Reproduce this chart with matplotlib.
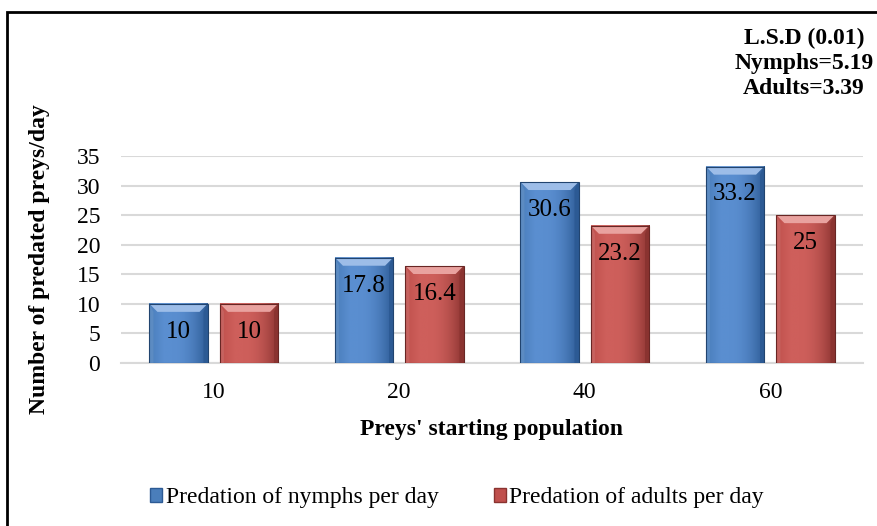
import numpy as np
import matplotlib
matplotlib.use("Agg")
import matplotlib.pyplot as plt
from matplotlib.patches import Patch, Polygon, Rectangle
from matplotlib.colors import to_rgb

categories = ["10", "20", "40", "60"]
nymphs = [10, 17.8, 30.6, 33.2]
adults = [10, 16.4, 23.2, 25]
series_names = ["Predation of nymphs per day", "Predation of adults per day"]
yticks = [0, 5, 10, 15, 20, 25, 30, 35]
lsd_lines = ["L.S.D (0.01)", "Nymphs=5.19", "Adults=3.39"]
xlabel = "Preys' starting population"
ylabel = "Number of predated preys/day"

plt.rcParams['font.family'] = ['Liberation Serif', 'DejaVu Serif']

W, H = 878, 526
fig = plt.figure(figsize=(W / 100, H / 100), dpi=100)
ax = fig.add_axes([121 / W, (H - 363) / H, 742 / W, 207 / H])

x = np.arange(len(categories))
bw = 0.313
off = 0.19
styles = [
    dict(main="#4A7EBB", light="#5A8ED0", edge="#2C5A94", top="#9DBDE8"),
    dict(main="#C0504D", light="#CE5F5B", edge="#8A3330", top="#E9A29F"),
]

def mix(c1, c2, t):
    a, b = np.array(to_rgb(c1)), np.array(to_rgb(c2))
    return a * (1 - t) + b * t

px_y = 35 / 207.0
px_x = 4.0 / 742.0

for vals, sgn, st, name in zip([nymphs, adults], [-1, 1], styles, series_names):
    bars = ax.bar(x + sgn * off, vals, bw, color=st["main"], zorder=3, label=name)
    for b in bars:
        bx, by = b.get_x(), b.get_y()
        w, h = b.get_width(), b.get_height()
        n = 64
        t = np.linspace(0, 1, n)
        cols = np.zeros((1, n, 3))
        for i in range(n):
            if t[i] < 0.4:
                cols[0, i] = mix(st["main"], st["light"], min(1, t[i] / 0.25))
            else:
                cols[0, i] = mix(st["light"], st["edge"], ((t[i] - 0.4) / 0.6) ** 2.0)
        ax.imshow(cols, extent=[bx, bx + w, by, by + h], aspect='auto',
                  zorder=3.1, interpolation='bilinear')
        bev_h = 8 * px_y
        bev_w = 8 * px_x
        top = Polygon([[bx, by + h], [bx + w, by + h], [bx + w - bev_w, by + h - bev_h],
                       [bx + bev_w, by + h - bev_h]], closed=True,
                      facecolor=st["top"], edgecolor='none', zorder=3.2)
        ax.add_patch(top)
        lb = Polygon([[bx, by], [bx, by + h], [bx + bev_w * 0.5, by + h - bev_h],
                      [bx + bev_w * 0.5, by]], closed=True,
                     facecolor=mix(st["main"], "white", 0.1), edgecolor='none', zorder=3.2)
        rb = Polygon([[bx + w, by], [bx + w, by + h], [bx + w - bev_w * 0.5, by + h - bev_h],
                      [bx + w - bev_w * 0.5, by]], closed=True,
                     facecolor=st["edge"], edgecolor='none', zorder=3.2)
        ax.add_patch(lb)
        ax.add_patch(rb)
        ax.add_patch(Rectangle((bx, by), w, h, fill=False, edgecolor=mix(st["edge"], "black", 0.25),
                               linewidth=0.8, zorder=3.3))
        ax.annotate(f"{h:g}", xy=(bx + w / 2, by + h), xytext=(0, -20),
                    textcoords='offset points', ha='center', va='center',
                    fontsize=18, color='black', zorder=4)

ax.set_xlim(-0.5, 3.5)
ax.set_ylim(0, 35)
ax.set_yticks(yticks)
ax.set_xticks(x)
ax.set_xticklabels(categories)
ax.tick_params(axis='both', length=0, labelsize=17)
ax.tick_params(axis='x', pad=14)
ax.tick_params(axis='y', pad=15)
ax.yaxis.grid(True, color='#D9D9D9', linewidth=1.5, zorder=0)
ax.set_axisbelow(True)
for s in ["left", "right", "top"]:
    ax.spines[s].set_visible(False)
ax.spines["bottom"].set_color('#D9D9D9')
ax.spines["bottom"].set_linewidth(1.5)

fig.text(491 / W, (H - 430) / H, xlabel, ha='center', va='center',
         fontsize=17, fontweight='bold')
fig.text(40 / W, (H - 259) / H, ylabel, ha='center', va='center',
         rotation=90, fontsize=17, fontweight='bold')

for i, line in enumerate(lsd_lines):
    fig.text(804 / W, (H - (38 + 25 * i)) / H, line, ha='center', va='center',
             fontsize=17, fontweight='bold')

handles = [Patch(facecolor=styles[0]["main"], edgecolor=styles[0]["edge"]),
           Patch(facecolor=styles[1]["main"], edgecolor=styles[1]["edge"])]
fig.legend(handles, series_names, loc='center', bbox_to_anchor=(457 / W, (H - 498) / H),
           ncol=2, frameon=False, fontsize=17, handlelength=0.5, handleheight=0.5,
           handletextpad=0.15, columnspacing=2.35)

fig.add_artist(Rectangle((7 / W, -0.1), 1.2, (H - 12) / H + 0.1, transform=fig.transFigure,
                         fill=False, edgecolor='black', linewidth=2, clip_on=False))

fig.savefig("out.png", dpi=100)
